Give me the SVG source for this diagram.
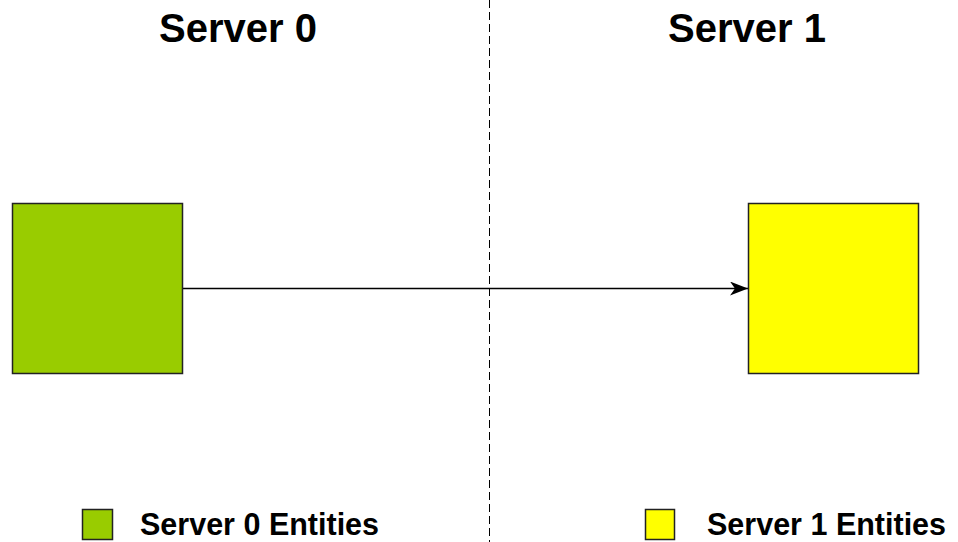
<svg xmlns="http://www.w3.org/2000/svg" width="958" height="542" viewBox="0 0 958 542">
<style>
.t{font-family:"Liberation Sans",Arial,sans-serif;font-weight:bold;fill:#000}
.title{font-size:40px}
.leg{font-size:30.5px}
.box{stroke:#222;stroke-width:1.5}
</style>
<defs>
<marker id="ah" markerWidth="20" markerHeight="14" refX="18" refY="7" orient="auto" markerUnits="userSpaceOnUse">
<path d="M0,0 L18,7 L0,14 L5,7 Z" fill="#000"/>
</marker>
</defs>
<rect width="958" height="542" fill="#fff"/>
<g id="divider">
<line x1="489.5" y1="0" x2="489.5" y2="542" stroke="#000" stroke-width="1" stroke-dasharray="8 4"/>
</g>
<g id="title0"><text class="t title" x="159" y="42">Server 0</text></g>
<g id="title1"><text class="t title" x="668" y="42">Server 1</text></g>
<g id="connectors">
<line x1="183" y1="288.5" x2="748" y2="288.5" stroke="#000" stroke-width="1.5" marker-end="url(#ah)"/>
</g>
<g id="entity0"><rect class="box" x="12.5" y="203.5" width="170" height="170" fill="#99cc00"/></g>
<g id="entity1"><rect class="box" x="748.5" y="203.5" width="170" height="170" fill="#ffff00"/></g>
<g id="legend0">
<rect class="box" x="82.5" y="509.5" width="30" height="30" fill="#99cc00"/>
<text class="t leg" x="140" y="535">Server 0 Entities</text>
</g>
<g id="legend1">
<rect class="box" x="645.5" y="509.5" width="29" height="30" fill="#ffff00"/>
<text class="t leg" x="707" y="535">Server 1 Entities</text>
</g>
</svg>
